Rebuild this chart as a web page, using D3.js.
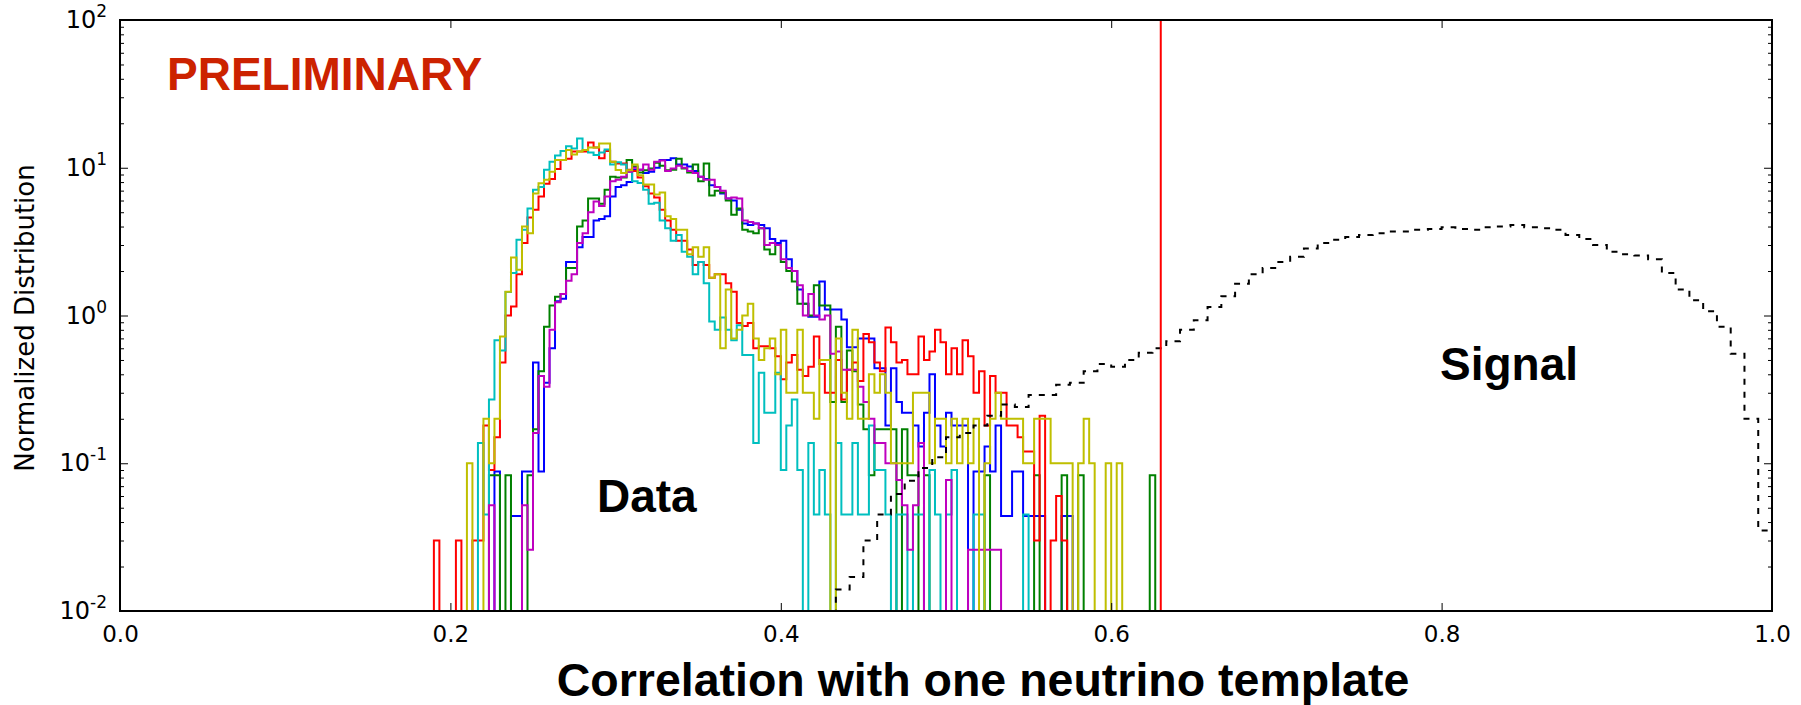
<!DOCTYPE html>
<html lang="en">
<head>
<meta charset="UTF-8">
<title>Correlation with one neutrino template</title>
<script src="https://d3js.org/d3.v7.min.js"></script>
<style>
  body { margin: 0; background: #fff; }
  svg { display: block; }
</style>
</head>
<body>
<div id="chart"></div>
<script>
// Data histograms: normalized bin heights, bins of width 1/300 starting at bin 57 (x = 0.19)
const dataBinWidth = 1 / 300;
const dataFirstBin = 57;

const blueVals = [
  0, 0, 0, 0, 0, 0, 0, 0, 0, 0,
  0, 0.088, 0, 0, 0.044, 0.044, 0.088, 0.088, 0.48, 0.088,
  0.35, 0.6, 1.25, 1.3, 2.3, 2.3, 2.9, 3.4, 3.4, 4.4,
  4.5, 4.7, 6.4, 7.4, 7.6, 8.0, 9.7, 9.7, 9.2, 9.4,
  10.0, 11.3, 11.3, 11.6, 10.5, 10.5, 10.2, 9.5, 8.7, 8.4,
  7.6, 7.4, 6.7, 6.2, 6.0, 5.2, 4.2, 4.1, 4.2, 4.1,
  3.9, 3.3, 3.1, 3.2, 2.4, 2.0, 1.5, 1.2, 0.98, 0.98,
  1.7, 1.1, 1.1, 1.1, 0.94, 0.61, 0.61, 0.7, 0.7, 0.7,
  0.44, 0.44, 0.18, 0.44, 0.26, 0.22, 0.22, 0.18, 0.13, 0.22,
  0.4, 0.18, 0.13, 0.22, 0.18, 0.18, 0.18, 0, 0.088, 0.088,
  0.13, 0.088, 0.18, 0.044, 0.044, 0.088, 0.088, 0.044, 0.044, 0.044,
  0.044, 0, 0, 0, 0.044, 0.044
];

const greenVals = [
  0, 0, 0, 0, 0, 0, 0, 0, 0, 0,
  0.083, 0.083, 0, 0.083, 0, 0, 0, 0.083, 0.17, 0.42,
  0.84, 1.17, 1.34, 1.4, 2.1, 2.1, 4.0, 4.4, 6.2, 6.2,
  5.7, 7.1, 8.7, 8.6, 8.6, 11.3, 10.2, 9.3, 9.6, 9.9,
  10.8, 10.3, 9.6, 9.7, 11.5, 9.9, 9.3, 10.5, 8.1, 10.7,
  6.5, 7.0, 6.8, 6.0, 4.8, 5.3, 3.8, 3.7, 3.6, 3.9,
  2.8, 2.6, 3.0, 2.3, 2.0, 1.7, 1.2, 1.2, 1.0, 1.6,
  1.17, 1.17, 0.26, 0.84, 0.26, 0.58, 0.42, 0.25, 0.17, 0.083,
  0.17, 0.17, 0.17, 0.17, 0, 0.17, 0.083, 0.083, 0, 0.083,
  0, 0, 0, 0, 0, 0, 0, 0, 0, 0,
  0.083, 0, 0, 0, 0, 0, 0, 0, 0, 0.083,
  0, 0, 0, 0, 0.083, 0, 0, 0.083, 0, 0,
  0, 0, 0, 0, 0, 0, 0, 0, 0, 0,
  0.083
];

const redVals = [
  0.03, 0, 0, 0, 0.03, 0, 0, 0.03, 0.03, 0.18,
  0.09, 0.15, 0.48, 1.0, 1.15, 1.9, 3.1, 4.6, 5.2, 6.4,
  7.8, 8.4, 9.8, 11.3, 11.5, 12.9, 12.9, 12.9, 14.8, 13.7,
  11.6, 13.0, 11.0, 10.7, 10.7, 9.7, 9.5, 8.6, 7.5, 6.7,
  6.3, 5.2, 4.4, 3.8, 3.2, 3.2, 2.8, 2.2, 2.3, 2.2,
  1.8, 1.9, 1.9, 1.65, 1.45, 0.89, 0.85, 0.89, 0.6, 0.62,
  0.62, 0.6, 0.53, 0.37, 0.48, 0.54, 0.43, 0.39, 0.45, 0.72,
  0.47, 0.3, 0.3, 0.5, 0.27, 0.43, 0.48, 0.36, 0.75, 0.66,
  0.48, 0.42, 0.83, 0.66, 0.48, 0.5, 0.4, 0.4, 0.72, 0.5,
  0.57, 0.8, 0.66, 0.4, 0.6, 0.4, 0.68, 0.53, 0.3, 0.42,
  0.18, 0.39, 0.3, 0.3, 0.18, 0.18, 0.15, 0.12, 0.12, 0.03,
  0.21, 0, 0.03, 0.06, 0.03
];

const cyanVals = [
  0, 0, 0, 0, 0, 0, 0, 0, 0.137, 0.045,
  0.27, 0.68, 0.58, 1.44, 1.94, 3.25, 3.8, 5.3, 7.1, 7.4,
  9.7, 11.0, 12.1, 13.0, 14.0, 13.5, 15.8, 13.2, 12.7, 12.2,
  12.7, 13.3, 10.5, 10.9, 10.5, 9.4, 8.1, 7.9, 7.1, 5.7,
  5.8, 4.4, 3.9, 3.2, 3.5, 2.7, 2.5, 1.9, 2.3, 1.65,
  0.91, 0.8, 0.97, 0.8, 0.68, 0.86, 0.54, 0.54, 0.137, 0.41,
  0.22, 0.22, 0.41, 0.09, 0.18, 0.27, 0.09, 0, 0.137, 0.045,
  0.09, 0.045, 0, 0.137, 0.045, 0.045, 0.137, 0.045, 0.045, 0.18,
  0.09, 0.09, 0.045, 0, 0.045, 0.045, 0, 0.045, 0.045, 0,
  0.09, 0.045, 0, 0.045, 0.09, 0, 0, 0, 0.045, 0.045,
  0, 0, 0, 0, 0, 0, 0, 0.045
];

const magentaVals = [
  0, 0, 0, 0, 0, 0, 0, 0, 0, 0,
  0.052, 0, 0, 0, 0, 0, 0.052, 0.026, 0.16, 0.39,
  0.33, 0.8, 1.23, 1.4, 1.72, 1.9, 3.1, 3.6, 5.0, 5.9,
  5.5, 6.4, 8.1, 8.3, 8.7, 9.4, 10.0, 9.7, 10.5, 9.7,
  11.0, 11.2, 9.5, 9.9, 10.3, 10.0, 9.5, 9.2, 8.7, 8.3,
  8.3, 7.4, 7.0, 6.2, 6.3, 6.2, 4.4, 4.3, 4.2, 3.9,
  3.0, 3.1, 3.0, 2.4, 2.1, 2.0, 1.6, 1.0, 1.4, 1.0,
  0.94, 1.0, 0.55, 0.57, 0.43, 0.43, 0.43, 0.33, 0.26, 0.2,
  0.137, 0.137, 0.1, 0.1, 0.077, 0.052, 0.026, 0.052, 0.137, 0,
  0, 0, 0, 0.077, 0, 0, 0, 0.026, 0.026, 0.026,
  0.026, 0.026, 0.026
];

const yellowVals = [
  0, 0, 0, 0, 0, 0, 0.1, 0, 0, 0.2,
  0.1, 0.2, 0.72, 1.45, 2.47, 2.04, 4.0, 3.6, 6.7, 7.85,
  8.3, 9.4, 11.3, 11.3, 13.2, 12.3, 12.9, 13.2, 13.7, 13.7,
  14.6, 14.6, 11.0, 9.66, 9.2, 9.6, 10.5, 8.9, 7.7, 7.7,
  6.6, 6.8, 4.7, 4.5, 3.8, 3.8, 2.6, 2.9, 2.5, 2.9,
  1.8, 1.9, 0.6, 1.5, 0.7, 0.8, 1.0, 1.2, 0.7, 0.5,
  0.6, 0.7, 0.4, 0.8, 0.3, 0.3, 0.8, 0.3, 0.3, 0.2,
  0.5, 0.5, 0, 0.7, 0.3, 0.2, 0.8, 0.2, 0.2, 0.4,
  0.3, 0.4, 0.3, 0.1, 0.1, 0.1, 0.1, 0.3, 0.3, 0.3,
  0.1, 0.2, 0.2, 0.1, 0.2, 0.1, 0.2, 0.1, 0.2, 0,
  0.1, 0.2, 0.3, 0.2, 0.2, 0.2, 0.2, 0.1, 0.1, 0.2,
  0.2, 0.2, 0.1, 0.1, 0.1, 0.1, 0, 0.1, 0.2, 0.1,
  0, 0, 0.1, 0, 0.1
];

// Signal histogram: bins of width 1/120 starting at bin 52 (x = 0.433)
const signalBinWidth = 1 / 120;
const signalFirstBin = 52;
const signalVals = [
  0.014, 0.017, 0.03, 0.045, 0.062, 0.076, 0.093, 0.11, 0.15, 0.16,
  0.18, 0.21, 0.25, 0.24, 0.29, 0.29, 0.34, 0.35, 0.42, 0.47,
  0.45, 0.5, 0.56, 0.6, 0.67, 0.8, 0.93, 1.14, 1.35, 1.64,
  1.9, 2.1, 2.3, 2.5, 2.84, 3.1, 3.25, 3.4, 3.5, 3.6,
  3.7, 3.7, 3.8, 3.85, 3.95, 3.85, 3.8, 3.95, 4.0, 4.1,
  3.95, 3.9, 3.8, 3.5, 3.3, 3.0, 2.7, 2.6, 2.55, 2.4,
  1.94, 1.5, 1.27, 1.07, 0.84, 0.55, 0.2, 0.035
];

const cutValue = 0.63;
const xTickValues = [0, 0.2, 0.4, 0.6, 0.8, 1.0];
const yTickExponents = [-2, -1, 0, 1, 2];

// drawn in this order (later ones on top)
const dataSeries = [
  { name: "blue", vals: blueVals, color: "#0000ff" },
  { name: "green", vals: greenVals, color: "#008000" },
  { name: "red", vals: redVals, color: "#ff0000" },
  { name: "cyan", vals: cyanVals, color: "#00bfbf" },
  { name: "magenta", vals: magentaVals, color: "#bf00bf" },
  { name: "yellow", vals: yellowVals, color: "#bfbf00" }
];

// Layout
const width = 1801, height = 705;
const margin = { top: 20, right: 29, bottom: 94, left: 120 };
const plotW = width - margin.left - margin.right;
const plotH = height - margin.top - margin.bottom;

const svg = d3.select("#chart").append("svg")
  .attr("width", width)
  .attr("height", height)
  .style("font-family", "'DejaVu Sans', sans-serif");

const x = d3.scaleLinear().domain([0, 1]).range([margin.left, margin.left + plotW]);
const y = d3.scaleLog().domain([1e-2, 1e2]).range([margin.top + plotH, margin.top]);
const floorY = y(1e-3); // zero bins fall below the frame and get clipped

svg.append("clipPath").attr("id", "plotClip")
  .append("rect")
  .attr("x", margin.left).attr("y", margin.top)
  .attr("width", plotW).attr("height", plotH);

const plot = svg.append("g").attr("clip-path", "url(#plotClip)");

// outline of a step histogram
function stepPoints(vals, firstBin, binWidth) {
  const pts = [[firstBin * binWidth, 0]];
  vals.forEach((v, i) => {
    const x0 = (firstBin + i) * binWidth;
    pts.push([x0, v], [x0 + binWidth, v]);
  });
  pts.push([(firstBin + vals.length) * binWidth, 0]);
  return pts;
}

const line = d3.line()
  .x(d => x(d[0]))
  .y(d => d[1] > 0 ? y(d[1]) : floorY);

dataSeries.forEach(s => {
  plot.append("path")
    .attr("d", line(stepPoints(s.vals, dataFirstBin, dataBinWidth)))
    .attr("fill", "none")
    .attr("stroke", s.color)
    .attr("stroke-width", 2)
    .attr("stroke-linejoin", "miter");
});

plot.append("path")
  .attr("d", line(stepPoints(signalVals, signalFirstBin, signalBinWidth)))
  .attr("fill", "none")
  .attr("stroke", "#000")
  .attr("stroke-width", 2)
  .attr("stroke-dasharray", "6,7");

// cut line
plot.append("line")
  .attr("x1", x(cutValue)).attr("x2", x(cutValue))
  .attr("y1", margin.top).attr("y2", margin.top + plotH)
  .attr("stroke", "#ff0000")
  .attr("stroke-width", 2);

// ticks (inward, all four sides)
const majorY = yTickExponents.map(e => Math.pow(10, e));
const minorY = y.ticks().filter(t => !majorY.some(m => Math.abs(m - t) < 1e-9));

function noDomain(g) { g.select(".domain").remove(); }

svg.append("g").attr("transform", `translate(0,${margin.top + plotH})`)
  .call(d3.axisBottom(x).tickValues(xTickValues).tickSize(-8).tickPadding(15).tickFormat(d3.format(".1f")))
  .call(noDomain)
  .call(g => g.selectAll("text").attr("font-size", 23).attr("fill", "#000").style("font-family", "'DejaVu Sans', sans-serif"));

svg.append("g").attr("transform", `translate(0,${margin.top})`)
  .call(d3.axisTop(x).tickValues(xTickValues).tickSize(-8).tickFormat(""))
  .call(noDomain);

[["left", margin.left, d3.axisLeft], ["right", margin.left + plotW, d3.axisRight]].forEach(([side, tx, ax]) => {
  svg.append("g").attr("transform", `translate(${tx},0)`)
    .call(ax(y).tickValues(majorY).tickSize(-8).tickFormat(""))
    .call(noDomain);
  svg.append("g").attr("transform", `translate(${tx},0)`)
    .call(ax(y).tickValues(minorY).tickSize(-4).tickFormat(""))
    .call(noDomain);
});

svg.selectAll(".tick line").attr("stroke", "#000").attr("stroke-width", 1);

// y tick labels as 10^n
const yLabels = svg.append("g");
yTickExponents.forEach(e => {
  const t = yLabels.append("text")
    .attr("x", margin.left - 13)
    .attr("y", y(Math.pow(10, e)) + 8)
    .attr("text-anchor", "end")
    .attr("font-size", 24)
    .attr("fill", "#000");
  t.append("tspan").text("10");
  t.append("tspan").attr("dy", -11).attr("font-size", 17).text(String(e));
});

// frame
svg.append("rect")
  .attr("x", margin.left).attr("y", margin.top)
  .attr("width", plotW).attr("height", plotH)
  .attr("fill", "none")
  .attr("stroke", "#000")
  .attr("stroke-width", 2);

// axis titles
svg.append("text")
  .attr("transform", "translate(34,318) rotate(-90)")
  .attr("text-anchor", "middle")
  .attr("font-size", 26)
  .attr("fill", "#000")
  .text("Normalized Distribution");

const bold = "'Liberation Sans', Arial, sans-serif";

svg.append("text")
  .attr("x", 983).attr("y", 696)
  .attr("text-anchor", "middle")
  .attr("font-family", bold).attr("font-weight", "bold").attr("font-size", 46.5)
  .attr("fill", "#000")
  .text("Correlation with one neutrino template");

// annotations
svg.append("text")
  .attr("x", 167).attr("y", 90)
  .attr("font-family", bold).attr("font-weight", "bold").attr("font-size", 46)
  .attr("fill", "#cc2200")
  .text("PRELIMINARY");

svg.append("text")
  .attr("x", 597).attr("y", 512)
  .attr("font-family", bold).attr("font-weight", "bold").attr("font-size", 46)
  .attr("fill", "#000")
  .text("Data");

svg.append("text")
  .attr("x", 1440).attr("y", 380)
  .attr("font-family", bold).attr("font-weight", "bold").attr("font-size", 46)
  .attr("fill", "#000")
  .text("Signal");
</script>
</body>
</html>
